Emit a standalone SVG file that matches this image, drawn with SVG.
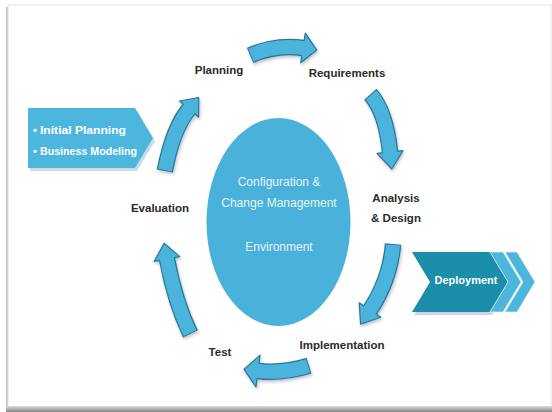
<svg xmlns="http://www.w3.org/2000/svg" width="552" height="412" viewBox="0 0 552 412">
<defs>
<style>
.lbl{font-family:"Liberation Sans",Arial,sans-serif;font-weight:bold;font-size:11.5px;fill:#2b2b2b;text-anchor:middle}
.ctr{font-family:"Liberation Sans",Arial,sans-serif;font-size:12px;fill:#e4f4fa;text-anchor:middle}
.wt{font-family:"Liberation Sans",Arial,sans-serif;font-weight:bold;font-size:11px;fill:#ffffff}
.bo{fill:none;stroke:#2a7896;stroke-width:16.5}
.bi{fill:none;stroke:#4cb4dc;stroke-width:14}
.hd{fill:#4cb4dc;stroke:#2a7896;stroke-width:1.2;stroke-linejoin:round}
</style>
<linearGradient id="bot" x1="0" y1="0" x2="0" y2="1">
<stop offset="0" stop-color="#dcdcdc"/>
<stop offset="1" stop-color="#858585"/>
</linearGradient>
<filter id="sh" x="-20%" y="-20%" width="140%" height="140%">
<feDropShadow dx="1" dy="2" stdDeviation="1.5" flood-color="#335" flood-opacity="0.3"/>
</filter>
</defs>
<rect x="0" y="0" width="552" height="412" fill="#ffffff"/>
<g id="frame">
<rect x="6" y="7" width="3" height="401" fill="#c4c4c4"/>
<rect x="8" y="5" width="543" height="402" fill="#ffffff" stroke="#e4e4e4" stroke-width="1"/>
<rect x="6" y="406" width="546" height="6" fill="url(#bot)"/>
</g>
<g id="center-node">
<ellipse cx="278.5" cy="222" rx="72" ry="104" fill="#49b1da"/>
<text class="ctr" x="279" y="186">Configuration &amp;</text>
<text class="ctr" x="279" y="207">Change Management</text>
<text class="ctr" x="279" y="251">Environment</text>
</g>
<g id="inception-node">
<polygon points="30,111 137,111 155,141 137,171 30,171" fill="#c9dce6"/>
<polygon points="28,108 135,108 153,138 135,168 28,168" fill="#4db6df"/>
<text class="wt" x="33" y="134">•</text>
<text class="wt" x="40" y="134" textLength="86" lengthAdjust="spacingAndGlyphs">Initial Planning</text>
<text class="wt" x="33" y="155">•</text>
<text class="wt" x="40" y="155" textLength="97" lengthAdjust="spacingAndGlyphs">Business Modeling</text>
</g>
<g id="deployment-node">
<polygon points="414,255 492,255 510,285 492,315 414,315 432,285" fill="#cfd2ea"/>
<polygon points="412,252 490,252 508,282 490,312 412,312 430,282" fill="#1b8ea9"/>
<polygon points="490,252 503,252 521,282 503,312 490,312 508,282" fill="#4db6dc" stroke="#d8eef7" stroke-width="0.8"/>
<polygon points="505,252 517,252 535,282 517,312 505,312 523,282" fill="#4db6dc" stroke="#d8eef7" stroke-width="0.8"/>
<text class="wt" x="466" y="284" text-anchor="middle" font-size="11.5">Deployment</text>
</g>
<g id="labels">
<g id="n-planning"><text class="lbl" x="219" y="74">Planning</text></g>
<g id="n-requirements"><text class="lbl" x="347" y="77">Requirements</text></g>
<g id="n-analysis"><text class="lbl" x="396" y="202">Analysis</text><text class="lbl" x="396" y="222">&amp; Design</text></g>
<g id="n-implementation"><text class="lbl" x="342" y="349">Implementation</text></g>
<g id="n-test"><text class="lbl" x="220" y="356">Test</text></g>
<g id="n-evaluation"><text class="lbl" x="160" y="212">Evaluation</text></g>
</g>
<g id="connectors" filter="url(#sh)">
<g id="a-plan-req">
<path class="bo" d="M250.1,55.4 Q277,44 303,48"/>
<polygon class="hd" points="305.3,33.2 316.8,50.1 300.7,62.8"/>
<path class="bi" d="M251,55 Q277,44 305,48.3"/>
</g>
<g id="a-req-ana">
<path class="bo" d="M370.3,94.3 Q386,112 390,152"/>
<polygon class="hd" points="403,150.6 391.8,169 377,153.4"/>
<path class="bi" d="M371,95 Q386,112 390.2,154"/>
</g>
<g id="a-ana-imp">
<path class="bo" d="M393.1,244 Q390,280 370,310"/>
<polygon class="hd" points="380.8,317.2 360.6,324.1 359.2,302.8"/>
<path class="bi" d="M393,245 Q390,280 368.9,311.7"/>
</g>
<g id="a-imp-test">
<path class="bo" d="M309,365.7 Q282,374 258,371"/>
<polygon class="hd" points="260,355.1 244.1,369.3 256,386.9"/>
<path class="bi" d="M308,366 Q282,374 256,370.75"/>
</g>
<g id="a-test-eval">
<path class="bo" d="M190.4,333.9 Q175,302 167,259"/>
<polygon class="hd" points="179.8,256.6 164.1,243.3 154.2,261.4"/>
<path class="bi" d="M190,333 Q175,302 166.6,257"/>
</g>
<g id="a-eval-plan">
<path class="bo" d="M164.8,171 Q173,128 189,109"/>
<polygon class="hd" points="198.6,117 198.7,97.5 179.4,101"/>
<path class="bi" d="M165,170 Q173,128 190.3,107.5"/>
</g>
</g>
</svg>
